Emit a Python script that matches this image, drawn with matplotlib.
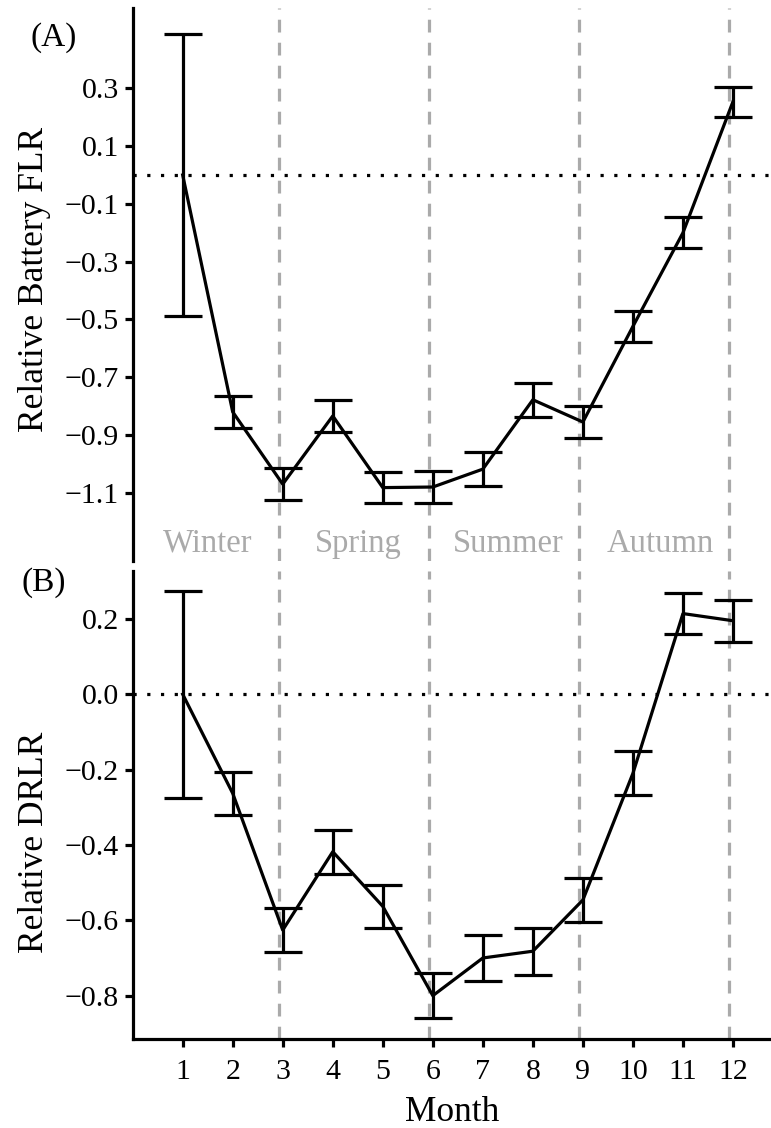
import matplotlib
matplotlib.use("Agg")
import matplotlib.pyplot as plt
import numpy as np

plt.rcParams['font.family'] = ['Liberation Serif', 'DejaVu Serif']

months = [1, 2, 3, 4, 5, 6, 7, 8, 9, 10, 11, 12]
month_labels = [str(m) for m in months]

# panel A: relative battery FLR, mean and error half-width
flr_mean = [0.0, -0.82, -1.07, -0.834, -1.082, -1.08, -1.018, -0.778, -0.855, -0.524, -0.20, 0.254]
flr_err = [0.489, 0.055, 0.056, 0.055, 0.055, 0.055, 0.06, 0.058, 0.056, 0.054, 0.054, 0.052]

# panel B: relative DRLR
drlr_mean = [0.0, -0.263, -0.626, -0.418, -0.563, -0.80, -0.70, -0.682, -0.546, -0.21, 0.214, 0.195]
drlr_err = [0.275, 0.057, 0.058, 0.058, 0.057, 0.06, 0.062, 0.062, 0.058, 0.058, 0.055, 0.056]

season_bounds = [2.92, 5.92, 8.92, 11.92]
seasons = ["Winter", "Spring", "Summer", "Autumn"]
season_x = [1.5, 4.5, 7.5, 10.55]

flr_ticks = [0.3, 0.1, -0.1, -0.3, -0.5, -0.7, -0.9, -1.1]
drlr_ticks = [0.2, 0.0, -0.2, -0.4, -0.6, -0.8]

W, H = 771, 1128
fig = plt.figure(figsize=(W / 100, H / 100), dpi=100)
left = 133.3 / W
axA = fig.add_axes([left, 1 - 560.7 / H, 1 - left, (560.7 - 8) / H])
axB = fig.add_axes([left, 1 - 1039 / H, 1 - left, (1039 - 571) / H])

lw = 2.3
gray = '#aaaaaa'

for ax, mean, err in [(axA, flr_mean, flr_err), (axB, drlr_mean, drlr_err)]:
    for xb in season_bounds:
        ax.axvline(xb, color=gray, lw=lw, linestyle=(0, (4.0, 3.2)), zorder=1)
    ax.axhline(0, color='black', lw=lw, linestyle=(0, (1, 3.3)), zorder=1)
    ax.errorbar(months, mean, yerr=err, color='black', lw=lw, elinewidth=lw,
                capsize=14, capthick=lw, zorder=3)
    ax.set_xlim(0.013, 12.76)
    for s in ['top', 'right']:
        ax.spines[s].set_visible(False)
    for s in ['left', 'bottom']:
        ax.spines[s].set_linewidth(lw)
    ax.tick_params(axis='both', width=lw, length=5.5, pad=5, labelsize=21.5)

axA.set_ylim(-1.335, 0.578)
axA.set_yticks(flr_ticks)
axA.set_yticklabels([f"{t:.1f}".replace('-', '\u2212') for t in flr_ticks])
axA.spines['bottom'].set_visible(False)
axA.tick_params(axis='x', bottom=False, labelbottom=False)
axA.set_ylabel("Relative Battery FLR", fontsize=25.5)
axA.yaxis.set_label_coords(-0.129, 0.508)

for name, sx in zip(seasons, season_x):
    axA.text(sx, -1.304, name, color=gray, fontsize=23.5, ha='center', va='baseline')

axB.set_ylim(-0.915, 0.327)
axB.set_yticks(drlr_ticks)
axB.set_yticklabels([f"{t:.1f}".replace('-', '\u2212') for t in drlr_ticks])
axB.set_xticks(months)
axB.set_xticklabels(month_labels)
axB.tick_params(axis='x', pad=8.6)
axB.set_xlabel("Month", fontsize=25.5, labelpad=8.5)
axB.set_ylabel("Relative DRLR", fontsize=25.5)
axB.yaxis.set_label_coords(-0.129, 0.42)

fig.text(53.5 / W, 1 - 38 / H, "(A)", fontsize=24, ha='center', va='center')
fig.text(44 / W, 1 - 583 / H, "(B)", fontsize=24, ha='center', va='center')

fig.savefig("out.png", dpi=100)
